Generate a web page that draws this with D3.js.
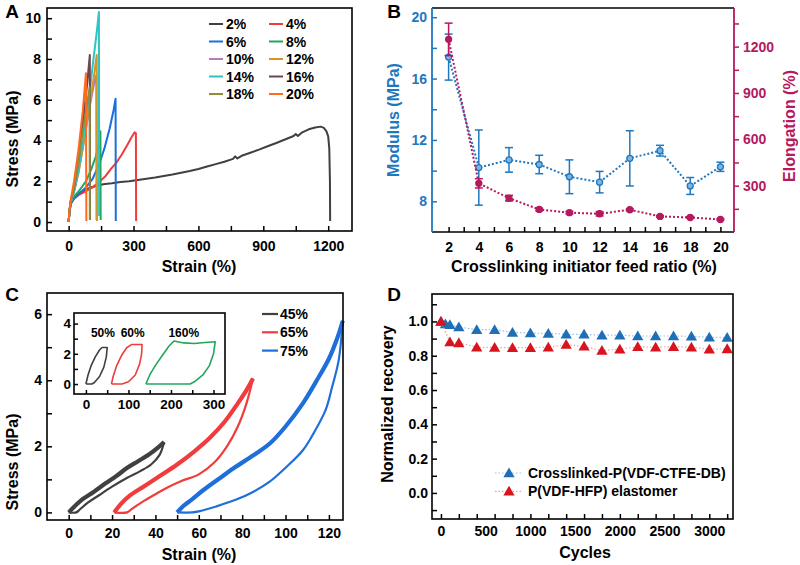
<!DOCTYPE html>
<html>
<head>
<meta charset="utf-8">
<script src="https://cdn.jsdelivr.net/npm/d3@7"></script>
<style>
  body { margin: 0; background: #fff; }
  svg { font-family: "Liberation Sans", Arial, Helvetica, sans-serif; font-weight: bold; }
</style>
</head>
<body>
<svg width="800" height="565"></svg>
<script>
var FONT = '"Liberation Sans", Arial, Helvetica, sans-serif';

// ---- panel A : stress-strain curves (strain %, stress MPa)
var aLabels = ['2%', '4%', '6%', '8%', '10%', '12%', '14%', '16%', '18%', '20%'];
var a2 = [[0,0],[4,0.5],[10,0.95],[20,1.15],[40,1.35],[70,1.55],[100,1.68],[130,1.78],[160,1.85],[200,1.9],[240,1.96],[280,2.0],[320,2.06],[360,2.12],[400,2.18],[440,2.26],[480,2.33],[520,2.42],[560,2.5],[600,2.6],[640,2.72],[680,2.84],[720,2.96],[760,3.1],[770,3.22],[780,3.12],[800,3.25],[840,3.4],[880,3.55],[920,3.72],[960,3.88],[1000,4.05],[1040,4.22],[1050,4.32],[1060,4.22],[1080,4.4],[1110,4.55],[1140,4.64],[1165,4.68],[1180,4.62],[1192,4.45],[1200,4.2],[1205,3.6],[1208,2.0],[1209,0.05]];
var a4 = [[0,0],[4,0.5],[10,0.9],[25,1.15],[50,1.35],[80,1.52],[110,1.7],[140,1.95],[170,2.25],[195,2.6],[220,2.9],[245,3.3],[270,3.75],[290,4.15],[305,4.4],[311,4.35],[312,0.05]];
var a6 = [[0,0],[4,0.5],[10,0.9],[25,1.15],[50,1.4],[80,1.7],[110,2.1],[140,2.8],[165,3.6],[190,4.6],[208,5.5],[217,6.05],[218,0.05]];
var a8 = [[0,0],[4,0.5],[10,0.95],[25,1.25],[50,1.55],[80,2.0],[105,2.6],[125,3.2],[140,3.8],[147,4.45],[148,0.1]];
var a10 = [[0,0],[4,0.55],[10,1.0],[25,1.5],[45,2.4],[65,3.6],[85,4.9],[105,6.1],[122,7.0],[128,7.2],[129,0.1]];
var a12 = [[0,0],[4,0.55],[10,1.0],[25,1.5],[45,2.4],[70,3.9],[95,5.6],[115,7.0],[130,8.2],[131,0.05]];
var a14 = [[0,0],[4,0.55],[10,1.0],[25,1.5],[45,2.5],[70,4.2],[95,6.2],[115,8.0],[132,9.5],[140,10.3],[141,0.3]];
var a16 = [[0,0],[4,0.55],[10,1.05],[25,1.7],[45,3.0],[65,4.8],[85,6.7],[98,8.2],[99,0.1]];
var a18 = [[0,0],[4,0.55],[10,1.05],[25,1.7],[45,2.9],[65,4.4],[85,5.8],[97,6.6],[98,0.1]];
var a20 = [[0,0],[4,0.6],[10,1.1],[25,2.0],[45,3.5],[65,5.4],[80,7.3],[82,0.05]];
var aColors = ['#404040', '#f23b3b', '#1a6ee0', '#23a55f', '#b47cb8', '#d4952a', '#2cc5c2', '#6e4452', '#8e8e3c', '#ff6a1f'];

// ---- panel B : modulus and elongation vs feed ratio
var bRatio = [2, 4, 6, 8, 10, 12, 14, 16, 18, 20];
var bModulus = [17.4, 10.2, 10.7, 10.4, 9.6, 9.25, 10.8, 11.3, 9.0, 10.25];
var bModulusErr = [1.5, 2.45, 0.8, 0.6, 1.1, 0.7, 1.8, 0.35, 0.55, 0.3];
var bElong = [1247, 315, 219, 146, 125, 118, 144, 101, 94, 81];
var bElongErr = [105, 30, 18, 8, 8, 14, 6, 5, 5, 5];

// ---- panel C : cyclic loading loops (loading branch, unloading branch)
var cLabels = ['45%', '65%', '75%'];
var cLoad45 = [[0,0],[3,0.2],[6,0.38],[11.5,0.62],[17,0.88],[22,1.1],[27,1.35],[32,1.55],[37,1.75],[41,1.95],[44,2.13]];
var cUnload45 = [[44,2.13],[42,1.75],[38,1.45],[33,1.25],[27,1.05],[20,0.78],[14,0.52],[9,0.3],[5,0.08],[3.5,0],[0,0]];
var cLoad65 = [[21,0],[24,0.25],[28,0.5],[35,0.8],[42,1.1],[50,1.45],[58,1.85],[65,2.25],[72,2.75],[78,3.3],[82,3.7],[85,4.05]];
var cUnload65 = [[85,4.05],[82,3.3],[78,2.6],[73,2.0],[67,1.5],[60,1.15],[52,0.95],[46,0.77],[40,0.55],[34,0.32],[29,0.1],[27,0],[21,0]];
var cLoad75 = [[50,0],[53,0.2],[57,0.4],[62,0.67],[70,1.05],[77,1.38],[85,1.72],[93,2.1],[100,2.6],[108,3.3],[114,3.95],[120,4.65],[124,5.3],[126.4,5.8]];
var cUnload75 = [[126.4,5.8],[124.5,4.6],[121.5,3.8],[118.5,3.1],[113,2.4],[108,1.88],[100,1.35],[92.7,0.93],[85,0.62],[77,0.38],[68,0.18],[60,0.03],[57,0],[50,0]];
var cColors = ['#404040', '#f03c3c', '#1e6fd9'];

// inset loops
var iLabels = ['50%', '60%', '160%'];
var iLabelPos = [[40, 3.1], [110, 3.1], [230, 3.1]];
var iLoop50 = [[0,0],[5,0.6],[12,1.2],[22,1.8],[32,2.25],[38,2.42],[50,2.42],[48,1.8],[42,1.1],[32,0.5],[20,0.1],[14,0],[0,0]];
var iLoop60 = [[60,0],[64,0.5],[72,1.2],[84,1.9],[96,2.4],[108,2.62],[132,2.62],[131,2.0],[126,1.3],[116,0.6],[100,0.15],[85,0],[60,0]];
var iLoop160 = [[141,0],[150,0.6],[165,1.3],[180,1.9],[195,2.5],[207,2.85],[230,2.72],[255,2.68],[280,2.75],[304,2.8],[300,2.0],[290,1.2],[275,0.6],[255,0.15],[245,0],[141,0]];
var iColors = ['#404040', '#f03c3c', '#23a55f'];

// ---- panel D : normalized recovery vs cycles
var dCycles = [0, 50, 100, 200, 400, 600, 800, 1000, 1200, 1400, 1600, 1800, 2000, 2200, 2400, 2600, 2800, 3000, 3200];
var dCrosslinked = [1.0, 0.985, 0.98, 0.968, 0.952, 0.952, 0.936, 0.932, 0.93, 0.925, 0.925, 0.92, 0.92, 0.915, 0.915, 0.915, 0.913, 0.908, 0.906];
var dCyclesHFP = [0, 100, 200, 400, 600, 800, 1000, 1200, 1400, 1600, 1800, 2000, 2200, 2400, 2600, 2800, 3000, 3200];
var dHFP = [1.0, 0.88, 0.875, 0.85, 0.848, 0.847, 0.847, 0.85, 0.865, 0.855, 0.83, 0.838, 0.852, 0.85, 0.852, 0.85, 0.838, 0.84];
var dLabels = ['Crosslinked-P(VDF-CTFE-DB)', 'P(VDF-HFP) elastomer'];

var svg = d3.select('svg');

function styleAxis(sel, color, size) {
  sel.select('.domain').remove();
  sel.selectAll('line').attr('stroke', color).attr('stroke-width', 1.5);
  sel.selectAll('text').attr('font-family', FONT).attr('font-weight', 'bold')
    .attr('font-size', size).attr('fill', color);
  return sel;
}
function every(step, dec) {
  return function(d) {
    var q = d / step;
    return Math.abs(q - Math.round(q)) < 1e-6 ? d3.format('.' + dec + 'f')(d) : '';
  };
}
function frame(x0, y0, x1, y1) {
  svg.append('rect').attr('x', x0).attr('y', y0).attr('width', x1 - x0).attr('height', y1 - y0)
    .attr('fill', 'none').attr('stroke', '#000').attr('stroke-width', 1.6);
}
function label(txt, x, y, size, color, rot) {
  var t = svg.append('text').text(txt).attr('font-size', size).attr('fill', color || '#000')
    .attr('text-anchor', 'middle');
  if (rot) t.attr('transform', 'translate(' + x + ',' + y + ') rotate(' + rot + ')');
  else t.attr('x', x).attr('y', y);
  return t;
}

// ================= A
var xA = d3.scaleLinear().domain([-100, 1310]).range([47, 352]);
var yA = d3.scaleLinear().domain([-0.44, 10.5]).range([231, 8]);
var lineA = d3.line().x(function(d) { return xA(d[0]); }).y(function(d) { return yA(d[1]); });
var aCurves = [a2, a4, a6, a8, a10, a12, a14, a16, a18, a20];
aCurves.forEach(function(c, i) {
  svg.append('path').attr('d', lineA(c)).attr('fill', 'none')
    .attr('stroke', aColors[i]).attr('stroke-width', 2).attr('stroke-linejoin', 'round');
});
styleAxis(svg.append('g').attr('transform', 'translate(0,231)')
  .call(d3.axisBottom(xA).tickValues(d3.range(0, 1201, 150)).tickFormat(every(300, 0))
    .tickSizeInner(-5).tickSizeOuter(0).tickPadding(10)), '#000', 14);
styleAxis(svg.append('g').attr('transform', 'translate(47,0)')
  .call(d3.axisLeft(yA).tickValues(d3.range(0, 11, 1)).tickFormat(every(2, 0))
    .tickSizeInner(-5).tickSizeOuter(0).tickPadding(6)), '#000', 14);
frame(47, 8, 352, 231);
aLabels.forEach(function(l, i) {
  var col = i % 2, row = Math.floor(i / 2);
  var lx = col ? 269 : 209, y = 24 + row * 17.5;
  svg.append('line').attr('x1', lx).attr('x2', lx + 14).attr('y1', y).attr('y2', y)
    .attr('stroke', aColors[i]).attr('stroke-width', 2);
  svg.append('text').text(l).attr('x', lx + 17).attr('y', y + 5).attr('font-size', 14);
});
label('Strain (%)', 199, 272, 16);
label('Stress (MPa)', 17.5, 139, 16, '#000', -90);
label('A', 12, 18, 19);

// ================= B
var blue = '#1e78c0', mag = '#b5195e';
var xB = d3.scaleLinear().domain([0.9, 20.9]).range([432, 734]);
var yBm = d3.scaleLinear().domain([6, 20.6]).range([232, 8]);
var yBe = d3.scaleLinear().domain([0, 1450]).range([232, 8]);
styleAxis(svg.append('g').attr('transform', 'translate(0,232)')
  .call(d3.axisBottom(xB).tickValues(d3.range(2, 21, 1)).tickFormat(every(2, 0))
    .tickSizeInner(-5).tickSizeOuter(0).tickPadding(10)), '#000', 14);
styleAxis(svg.append('g').attr('transform', 'translate(432,0)')
  .call(d3.axisLeft(yBm).tickValues(d3.range(8, 21, 2)).tickFormat(every(4, 0))
    .tickSizeInner(-5).tickSizeOuter(0).tickPadding(5)), blue, 14);
styleAxis(svg.append('g').attr('transform', 'translate(734,0)')
  .call(d3.axisRight(yBe).tickValues(d3.range(150, 1400, 150)).tickFormat(every(300, 0))
    .tickSizeInner(5).tickSizeOuter(0).tickPadding(4)), mag, 14);
svg.append('line').attr('x1', 432).attr('x2', 734).attr('y1', 8).attr('y2', 8).attr('stroke', '#000').attr('stroke-width', 1.6);
svg.append('line').attr('x1', 432).attr('x2', 734).attr('y1', 232).attr('y2', 232).attr('stroke', '#000').attr('stroke-width', 1.6);
svg.append('line').attr('x1', 432).attr('x2', 432).attr('y1', 8).attr('y2', 232).attr('stroke', blue).attr('stroke-width', 1.8);
svg.append('line').attr('x1', 734).attr('x2', 734).attr('y1', 8).attr('y2', 232).attr('stroke', mag).attr('stroke-width', 1.8);

function seriesB(vals, errs, yS, color, fill) {
  var pts = bRatio.map(function(r, i) { return [r, vals[i], errs[i]]; });
  svg.append('path').attr('d', d3.line().x(function(d) { return xB(d[0]); }).y(function(d) { return yS(d[1]); })(pts))
    .attr('fill', 'none').attr('stroke', color).attr('stroke-width', 2).attr('stroke-dasharray', '2,2');
  var g = svg.append('g').attr('stroke', color).attr('stroke-width', 1.5);
  pts.forEach(function(d) {
    var x = xB(d[0]), y0 = yS(d[1] - d[2]), y1 = yS(d[1] + d[2]);
    g.append('line').attr('x1', x).attr('x2', x).attr('y1', y0).attr('y2', y1);
    g.append('line').attr('x1', x - 4).attr('x2', x + 4).attr('y1', y0).attr('y2', y0);
    g.append('line').attr('x1', x - 4).attr('x2', x + 4).attr('y1', y1).attr('y2', y1);
  });
  svg.append('g').selectAll('circle').data(pts).enter().append('circle')
    .attr('cx', function(d) { return xB(d[0]); }).attr('cy', function(d) { return yS(d[1]); })
    .attr('r', 3).attr('fill', fill).attr('stroke', color).attr('stroke-width', 1.3);
}
seriesB(bModulus, bModulusErr, yBm, blue, '#7fb4de');
seriesB(bElong, bElongErr, yBe, mag, mag);
label('Crosslinking initiator feed ratio (%)', 584, 272, 16);
label('Modulus (MPa)', 399, 120, 16, blue, -90);
label('Elongation (%)', 795, 126, 16, mag, -90);
label('B', 394, 18, 19);

// ================= C
var xC = d3.scaleLinear().domain([-10, 126.5]).range([47, 343]);
var yC = d3.scaleLinear().domain([-0.23, 6.64]).range([520, 293]);
var lineC = d3.line().x(function(d) { return xC(d[0]); }).y(function(d) { return yC(d[1]); }).curve(d3.curveMonotoneX);
var lineCu = d3.line().x(function(d) { return xC(d[0]); }).y(function(d) { return yC(d[1]); }).curve(d3.curveCatmullRom);
[[cLoad45, cUnload45], [cLoad65, cUnload65], [cLoad75, cUnload75]].forEach(function(c, i) {
  svg.append('path').attr('d', lineCu(c[1])).attr('fill', 'none').attr('stroke', cColors[i]).attr('stroke-width', 2.2);
  svg.append('path').attr('d', lineCu(c[0])).attr('fill', 'none').attr('stroke', cColors[i]).attr('stroke-width', 4.2);
});
styleAxis(svg.append('g').attr('transform', 'translate(0,520)')
  .call(d3.axisBottom(xC).tickValues(d3.range(0, 121, 10)).tickFormat(every(20, 0))
    .tickSizeInner(-5).tickSizeOuter(0).tickPadding(8)), '#000', 14);
styleAxis(svg.append('g').attr('transform', 'translate(47,0)')
  .call(d3.axisLeft(yC).tickValues(d3.range(0, 7, 1)).tickFormat(every(2, 0))
    .tickSizeInner(-5).tickSizeOuter(0).tickPadding(5)), '#000', 14);
frame(47, 293, 343, 520);
cLabels.forEach(function(l, i) {
  var y = 314 + i * 18.3;
  svg.append('line').attr('x1', 262).attr('x2', 278).attr('y1', y).attr('y2', y)
    .attr('stroke', cColors[i]).attr('stroke-width', 2.2);
  svg.append('text').text(l).attr('x', 280).attr('y', y + 5).attr('font-size', 14);
});

// inset
var xI = d3.scaleLinear().domain([-28, 327]).range([74, 225]);
var yI = d3.scaleLinear().domain([-0.66, 4.7]).range([394, 313]);
var lineI = d3.line().x(function(d) { return xI(d[0]); }).y(function(d) { return yI(d[1]); });
svg.append('rect').attr('x', 74).attr('y', 313).attr('width', 151).attr('height', 81).attr('fill', '#fff');
[iLoop50, iLoop60, iLoop160].forEach(function(c, i) {
  svg.append('path').attr('d', lineI(c)).attr('fill', 'none').attr('stroke', iColors[i])
    .attr('stroke-width', 1.6).attr('stroke-linejoin', 'round');
  svg.append('text').text(iLabels[i]).attr('x', xI(iLabelPos[i][0])).attr('y', yI(iLabelPos[i][1]))
    .attr('font-size', 12).attr('text-anchor', 'middle');
});
styleAxis(svg.append('g').attr('transform', 'translate(0,394)')
  .call(d3.axisBottom(xI).tickValues(d3.range(0, 301, 50)).tickFormat(every(100, 0))
    .tickSizeInner(-4).tickSizeOuter(0).tickPadding(5)), '#000', 13.5);
styleAxis(svg.append('g').attr('transform', 'translate(74,0)')
  .call(d3.axisLeft(yI).tickValues(d3.range(0, 5, 1)).tickFormat(every(2, 0))
    .tickSizeInner(-4).tickSizeOuter(0).tickPadding(3)), '#000', 13.5);
frame(74, 313, 225, 394);
label('Strain (%)', 199, 560, 16);
label('Stress (MPa)', 17.5, 462, 16, '#000', -90);
label('C', 12, 301, 19);

// ================= D
var dBlue = '#1f6fb8', dRed = '#d8141e';
var xD = d3.scaleLinear().domain([-100, 3265]).range([432, 733]);
var yD = d3.scaleLinear().domain([-0.152, 1.16]).range([519, 294]);
var lineD = d3.line().x(function(d) { return xD(d[0]); }).y(function(d) { return yD(d[1]); });
var tri = d3.symbol().type(d3.symbolTriangle).size(55);
function seriesD(xs, ys, color, light) {
  var pts = xs.map(function(x, i) { return [x, ys[i]]; });
  svg.append('path').attr('d', lineD(pts)).attr('fill', 'none').attr('stroke', light)
    .attr('stroke-width', 1.2).attr('stroke-dasharray', '1.5,2');
  svg.append('g').selectAll('path').data(pts).enter().append('path').attr('d', tri)
    .attr('transform', function(d) { return 'translate(' + xD(d[0]) + ',' + (yD(d[1]) + 1) + ')'; })
    .attr('fill', color);
}
seriesD(dCycles, dCrosslinked, dBlue, '#9dbfe3');
seriesD(dCyclesHFP, dHFP, dRed, '#f1a1a4');
styleAxis(svg.append('g').attr('transform', 'translate(0,519)')
  .call(d3.axisBottom(xD).tickValues(d3.range(0, 3201, 200)).tickFormat('')
    .tickSizeInner(-5).tickSizeOuter(0)), '#000', 14);
styleAxis(svg.append('g').attr('transform', 'translate(0,519)')
  .call(d3.axisBottom(xD).tickValues(d3.range(0, 3001, 500)).tickFormat(d3.format('d'))
    .tickSizeInner(0).tickSizeOuter(0).tickPadding(7)), '#000', 14);
styleAxis(svg.append('g').attr('transform', 'translate(432,0)')
  .call(d3.axisLeft(yD).tickValues(d3.range(-0.1, 1.15, 0.1)).tickFormat(every(0.2, 1))
    .tickSizeInner(-5).tickSizeOuter(0).tickPadding(4)), '#000', 14);
frame(432, 294, 733, 519);
[[dBlue, '#9dbfe3'], [dRed, '#f1a1a4']].forEach(function(c, i) {
  var y = 473 + i * 18.3;
  svg.append('line').attr('x1', 495).attr('x2', 523).attr('y1', y).attr('y2', y)
    .attr('stroke', c[1]).attr('stroke-width', 1.2).attr('stroke-dasharray', '1.5,2');
  svg.append('path').attr('d', tri).attr('transform', 'translate(509,' + (y + 1) + ')').attr('fill', c[0]);
  svg.append('text').text(dLabels[i]).attr('x', 528).attr('y', y + 5).attr('font-size', 14);
});
label('Cycles', 585, 558, 16);
label('Normalized recovery', 393, 404, 16, '#000', -90);
label('D', 394, 301, 19);
</script>
</body>
</html>
